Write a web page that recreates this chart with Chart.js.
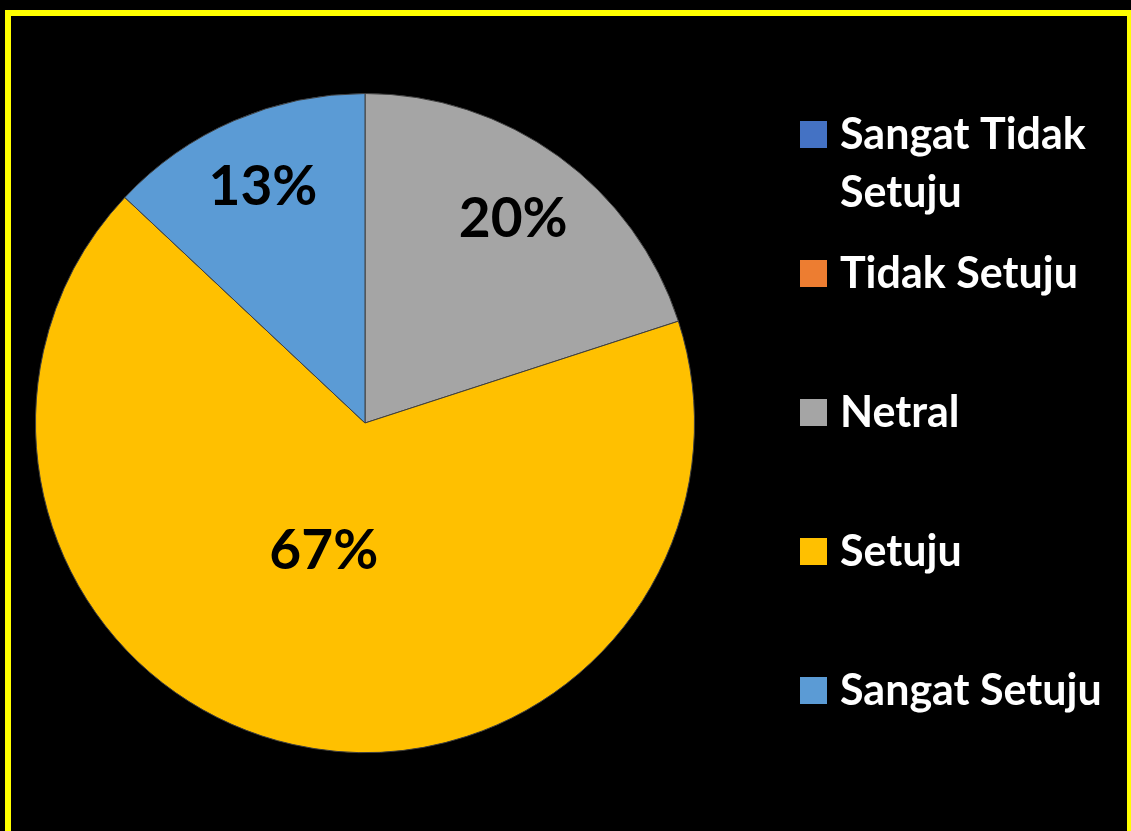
<!DOCTYPE html>
<html>
<head>
<meta charset="utf-8">
<script src="https://cdn.jsdelivr.net/npm/chart.js@4/dist/chart.umd.min.js"></script>
<style>
  html, body { margin: 0; padding: 0; background: #000; overflow: hidden; }
  #wrap { position: relative; width: 1131px; height: 831px; }
  #frame {
    position: absolute; left: 5px; top: 10px; width: 1128px; height: 840px;
    box-sizing: border-box; border: 6px solid #ffff00; pointer-events: none;
  }
</style>
</head>
<body>
<div id="wrap">
  <canvas id="myChart"></canvas>
  <div id="frame"></div>
</div>
<script>
// values (percent)
const categories = ['Sangat Tidak Setuju', 'Tidak Setuju', 'Netral', 'Setuju', 'Sangat Setuju'];
const percentValues = [0, 0, 20, 67, 13];
const sliceColors = ['#4472c4', '#ed7d31', '#a5a5a5', '#ffc000', '#5b9bd5'];

// where each percent label sits, as a share of the radius
const labelRadius = [0.7, 0.7, 0.765, 0.41, 0.78];

const labelFont = 'bold 55px Lato';
const legendFont = 'bold 43px Lato';

// draws the percent text on the slices
const sliceLabels = {
    id: 'sliceLabels',
    afterDatasetsDraw(chart) {
        const ctx = chart.ctx;
        const meta = chart.getDatasetMeta(0);
        ctx.save();
        ctx.font = labelFont;
        ctx.fillStyle = '#000';
        ctx.textAlign = 'center';
        ctx.textBaseline = 'middle';
        meta.data.forEach((arc, i) => {
            const value = chart.data.datasets[0].data[i];
            if (!value) return;
            const p = arc.getProps(['x', 'y', 'startAngle', 'endAngle', 'outerRadius'], true);
            // Excel nudges the big slice label a bit off its middle
            const mid = (p.startAngle + p.endAngle) / 2 + (i === 3 ? 0.09 : 0);
            const r = p.outerRadius * labelRadius[i];
            ctx.fillText(value + '%', p.x + Math.cos(mid) * r, p.y + Math.sin(mid) * r);
        });
        ctx.restore();
    }
};

function wrapText(ctx, text, maxWidth) {
    const words = text.split(' ');
    const lines = [];
    let line = '';
    words.forEach((w) => {
        const test = line ? line + ' ' + w : w;
        if (ctx.measureText(test).width > maxWidth && line) {
            lines.push(line);
            line = w;
        } else {
            line = test;
        }
    });
    lines.push(line);
    return lines;
}

// legend on the right, Excel style
const sideLegend = {
    id: 'sideLegend',
    afterDraw(chart) {
        const ctx = chart.ctx;
        const boxX = 800, boxSize = 27, textX = 840, firstY = 134.5, step = 139, lineGap = 58;
        ctx.save();
        ctx.font = legendFont;
        ctx.textBaseline = 'middle';
        chart.data.labels.forEach((label, i) => {
            const y = firstY + step * i;
            ctx.fillStyle = chart.data.datasets[0].backgroundColor[i];
            ctx.fillRect(boxX, y - boxSize / 2, boxSize, boxSize);
            ctx.fillStyle = '#fff';
            wrapText(ctx, label, 278).forEach((ln, k) => {
                ctx.fillText(ln, textX, y + 1 + k * lineGap);
            });
        });
        ctx.restore();
    }
};

function mainEvent() {
    const target = document.querySelector('#myChart');
    new Chart(target, {
        type: 'pie',
        data: {
            labels: categories,
            datasets: [{
                data: percentValues,
                backgroundColor: sliceColors,
                borderColor: '#3f3f3f',
                borderWidth: 1
            }]
        },
        options: {
            responsive: true,
            maintainAspectRatio: false,
            animation: false,
            events: [],
            layout: { padding: { left: 35, right: 436, top: 93, bottom: 78 } },
            plugins: {
                legend: { display: false },
                tooltip: { enabled: false }
            }
        },
        plugins: [sliceLabels, sideLegend]
    });
}

document.fonts.load('bold 40px Lato').then(() => mainEvent(), () => mainEvent());
</script>
</body>
</html>
